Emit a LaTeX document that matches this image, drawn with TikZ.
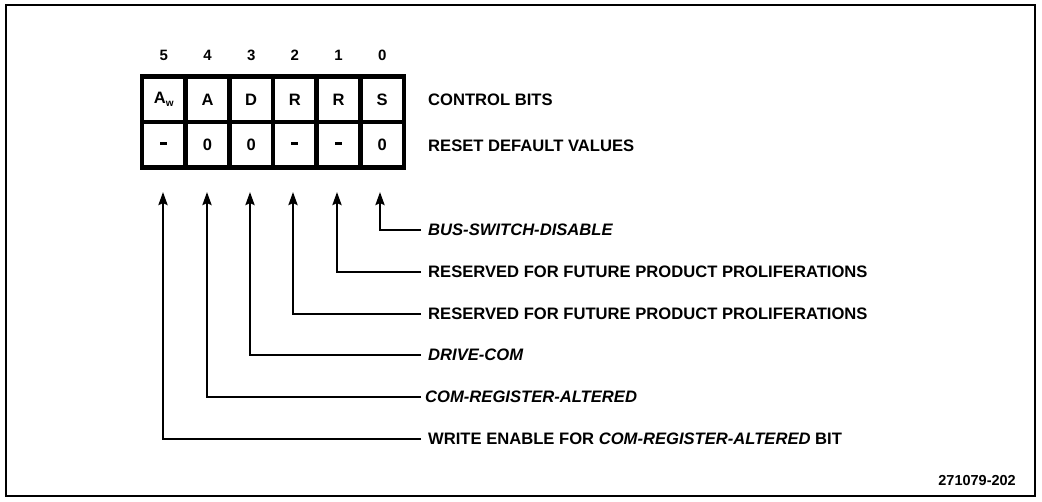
\documentclass[tikz,border=0pt]{standalone}
\usepackage{fontspec}
\setmainfont{Liberation Sans}
\usetikzlibrary{arrows.meta}
\newcommand{\cdash}{\rule[3pt]{7pt}{3.5pt}}
\begin{document}
\begin{tikzpicture}[x=1pt,y=-1pt,
  cell/.style={draw,line width=4.5pt,minimum width=43.67pt,minimum height=45.5pt,inner sep=0pt,font=\fontsize{16.5}{16.5}\selectfont\bfseries},
  bitnum/.style={inner sep=0pt,font=\fontsize{15}{15}\selectfont\bfseries},
  lab/.style={anchor=west,inner xsep=7pt,inner ysep=0pt,font=\fontsize{16.6}{16.6}\selectfont\bfseries},
  conn/.style={line width=2.6pt,-{Stealth[length=13pt,width=9pt,inset=2pt]}}]
\useasboundingbox (0,0) rectangle (1042,502);
\draw[line width=2pt] (6,5) rectangle (1035,496);
% bit numbers
\foreach \n/\x in {5/163.8,4/207.5,3/251.2,2/294.8,1/338.5,0/382.2}{
  \node[bitnum] (b\n) at (\x,55) {\n};
}
% control bits row
\node[cell] (c5) at (163.8,99.5) {A\raisebox{-3pt}{\fontsize{10}{10}\selectfont w}};
\node[cell] (c4) at (207.5,99.5) {A};
\node[cell] (c3) at (251.2,99.5) {D};
\node[cell] (c2) at (294.8,99.5) {R};
\node[cell] (c1) at (338.5,99.5) {R};
\node[cell] (c0) at (382.2,99.5) {S};
% reset defaults row
\node[cell] (r5) at (163.8,145) {\cdash};
\node[cell] (r4) at (207.5,145) {0};
\node[cell] (r3) at (251.2,145) {0};
\node[cell] (r2) at (294.8,145) {\cdash};
\node[cell] (r1) at (338.5,145) {\cdash};
\node[cell] (r0) at (382.2,145) {0};
\node[lab,inner xsep=0pt] (ctl) at (428,100) {CONTROL BITS};
\node[lab,inner xsep=0pt] (rst) at (428,146) {RESET DEFAULT VALUES};
% arrow tips
\coordinate (t5) at (163,192);
\coordinate (t4) at (207,192);
\coordinate (t3) at (250,192);
\coordinate (t2) at (293,192);
\coordinate (t1) at (337,192);
\coordinate (t0) at (380,192);
% labels
\node[lab] (l0) at (421,230) {\itshape BUS-SWITCH-DISABLE};
\node[lab] (l1) at (421,272) {RESERVED FOR FUTURE PRODUCT PROLIFERATIONS};
\node[lab] (l2) at (421,314) {RESERVED FOR FUTURE PRODUCT PROLIFERATIONS};
\node[lab] (l3) at (421,355) {\itshape DRIVE-COM};
\node[lab,inner xsep=4pt] (l4) at (421,397) {\itshape COM-REGISTER-ALTERED};
\node[lab] (l5) at (421,439) {WRITE ENABLE FOR \textit{COM-REGISTER-ALTERED} BIT};
\foreach \i in {0,...,5}{
  \draw[conn] (l\i.west) -| (t\i);
}
\node[anchor=east,inner sep=0pt,font=\fontsize{14.5}{14.5}\selectfont\bfseries] (fig) at (1016,481) {271079-202};
\end{tikzpicture}
\end{document}
